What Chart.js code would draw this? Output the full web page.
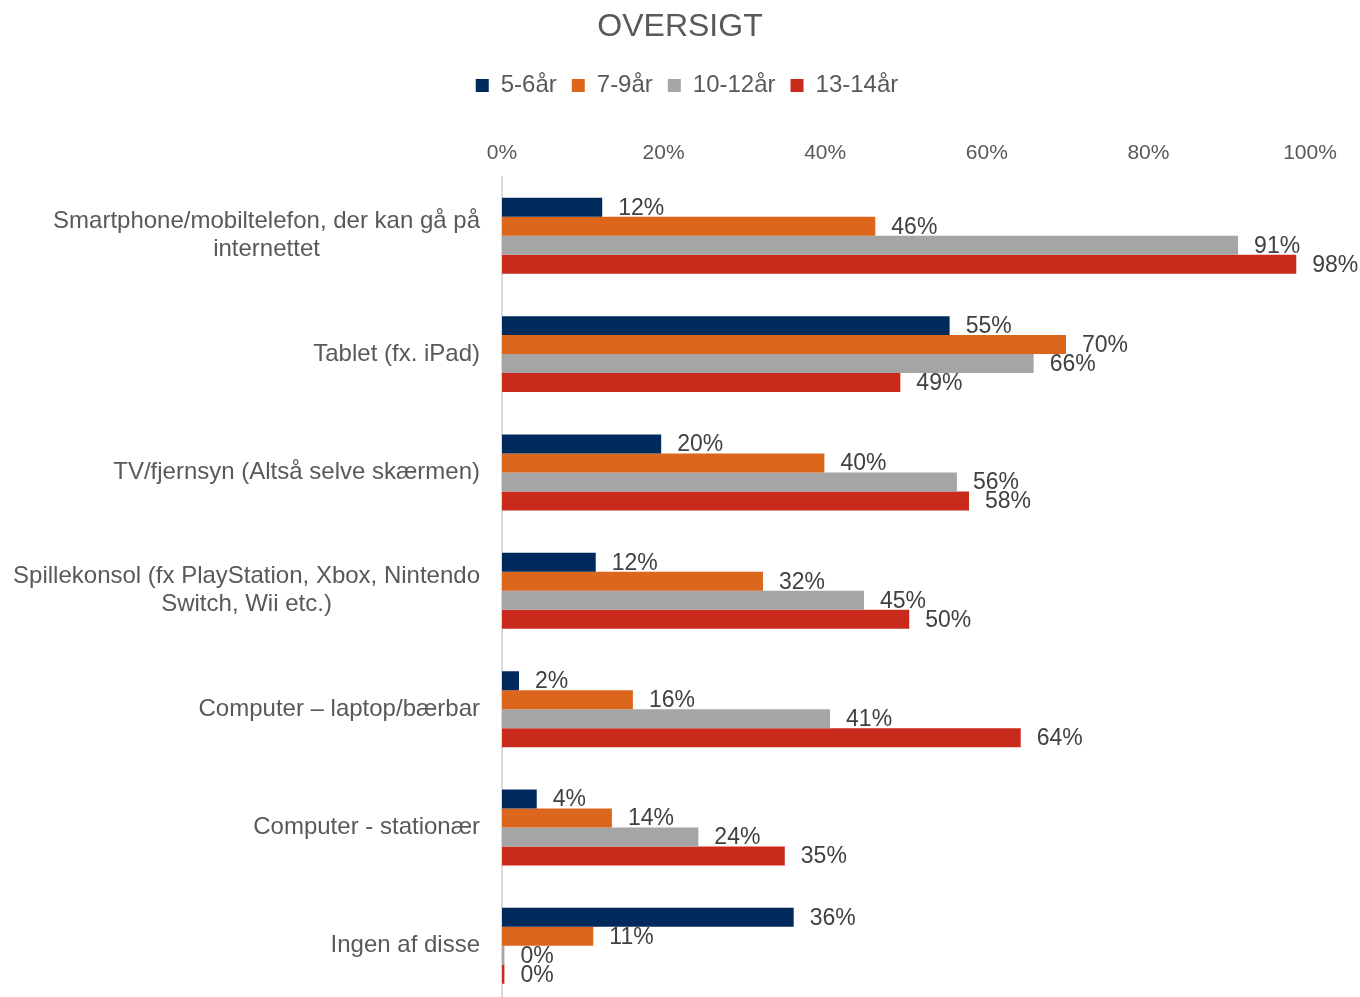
<!DOCTYPE html>
<html>
<head>
<meta charset="utf-8">
<script src="https://cdn.jsdelivr.net/npm/chart.js@4"></script>
<style>
html,body{margin:0;padding:0;background:#fff;overflow:hidden;width:1360px;height:997px;}
canvas{display:block;}
</style>
</head>
<body>
<canvas id="c" width="1360" height="1005"></canvas>
<script>
const categories = [
  ["Smartphone/mobiltelefon, der kan gå på", "internettet"],
  ["Tablet (fx. iPad)"],
  ["TV/fjernsyn (Altså selve skærmen)"],
  ["Spillekonsol (fx PlayStation, Xbox, Nintendo", "Switch, Wii etc.)"],
  ["Computer – laptop/bærbar"],
  ["Computer - stationær"],
  ["Ingen af disse"]
];
const seriesNames = ["5-6år", "7-9år", "10-12år", "13-14år"];
const age5_6   = [12.4, 55.4, 19.7, 11.6, 2.1, 4.3, 36.1];
const age7_9   = [46.2, 69.8, 39.9, 32.3, 16.2, 13.6, 11.3];
const age10_12 = [91.1, 65.8, 56.3, 44.8, 40.6, 24.3, 0.3];
const age13_14 = [98.3, 49.3, 57.8, 50.4, 64.2, 35.0, 0.3];
const tickValues = [0, 20, 40, 60, 80, 100];
const colors = ["#002a5c", "#dc661c", "#a5a5a5", "#c92a1b"];

const FONT = "'Liberation Sans', Arial, sans-serif";

const valueLabels = {
  id: 'valueLabels',
  afterDatasetsDraw(chart) {
    const ctx = chart.ctx;
    ctx.save();
    ctx.font = "23px " + FONT;
    ctx.fillStyle = "#404040";
    ctx.textAlign = "left";
    ctx.textBaseline = "middle";
    chart.data.datasets.forEach((ds, i) => {
      const meta = chart.getDatasetMeta(i);
      meta.data.forEach((el, j) => {
        ctx.fillText(Math.round(ds.data[j]) + "%", el.x + 16, el.y + 1);
      });
    });
    ctx.restore();
  }
};

const catLabels = {
  id: 'catLabels',
  afterDraw(chart) {
    const ctx = chart.ctx;
    const y = chart.scales.y;
    const right = chart.chartArea.left - 22;
    ctx.save();
    ctx.font = "24px " + FONT;
    ctx.fillStyle = "#595959";
    ctx.textAlign = "center";
    ctx.textBaseline = "middle";
    categories.forEach((lines, i) => {
      const cy = y.getPixelForValue(i);
      let widest = 0;
      lines.forEach(l => { widest = Math.max(widest, ctx.measureText(l).width); });
      const cx = right - widest / 2;
      const lh = 28;
      const start = cy - (lines.length - 1) * lh / 2;
      lines.forEach((l, k) => ctx.fillText(l, cx, start + k * lh));
    });
    ctx.restore();
  }
};

const legendShift = {
  id: 'legendShift',
  afterLayout(chart) {
    if (chart.legend) { chart.legend.left += 14; }
  }
};

const dataArrays = [age5_6, age7_9, age10_12, age13_14];

new Chart(document.getElementById('c'), {
  type: 'bar',
  data: {
    labels: categories.map(c => c.join(' ')),
    datasets: seriesNames.map((n, i) => ({
      label: n,
      data: dataArrays[i],
      backgroundColor: colors[i],
      borderWidth: 0,
      categoryPercentage: 0.642,
      barPercentage: 1.0
    }))
  },
  options: {
    indexAxis: 'y',
    responsive: false,
    animation: false,
    devicePixelRatio: 1,
    layout: { padding: 0 },
    plugins: {
      title: {
        display: true,
        text: 'OVERSIGT',
        color: '#595959',
        font: { family: FONT, size: 32, weight: 'normal' },
        padding: { top: 8, bottom: 12 }
      },
      legend: {
        position: 'top',
        labels: {
          color: '#595959',
          font: { family: FONT, size: 24 },
          boxWidth: 13,
          boxHeight: 13,
          padding: 15
        }
      },
      tooltip: { enabled: false }
    },
    scales: {
      x: {
        position: 'top',
        min: 0,
        max: 100,
        afterBuildTicks(axis) { axis.ticks = tickValues.map(v => ({ value: v })); },
        afterFit(axis) { axis.height += 22; },
        ticks: {
          color: '#595959',
          font: { family: FONT, size: 21 },
          padding: 11,
          callback: v => v + '%'
        },
        grid: { display: false, drawTicks: false },
        border: { display: false }
      },
      y: {
        afterFit(axis) { axis.width = 502; },
        ticks: { display: false },
        grid: { display: false, drawTicks: false },
        border: { display: true, color: '#d9d9d9', width: 2 }
      },
      y2: {
        type: 'linear',
        position: 'right',
        display: true,
        afterFit(axis) { axis.width = 50; },
        ticks: { display: false },
        grid: { display: false, drawTicks: false },
        border: { display: false }
      }
    }
  },
  plugins: [valueLabels, catLabels, legendShift]
});
</script>
</body>
</html>
